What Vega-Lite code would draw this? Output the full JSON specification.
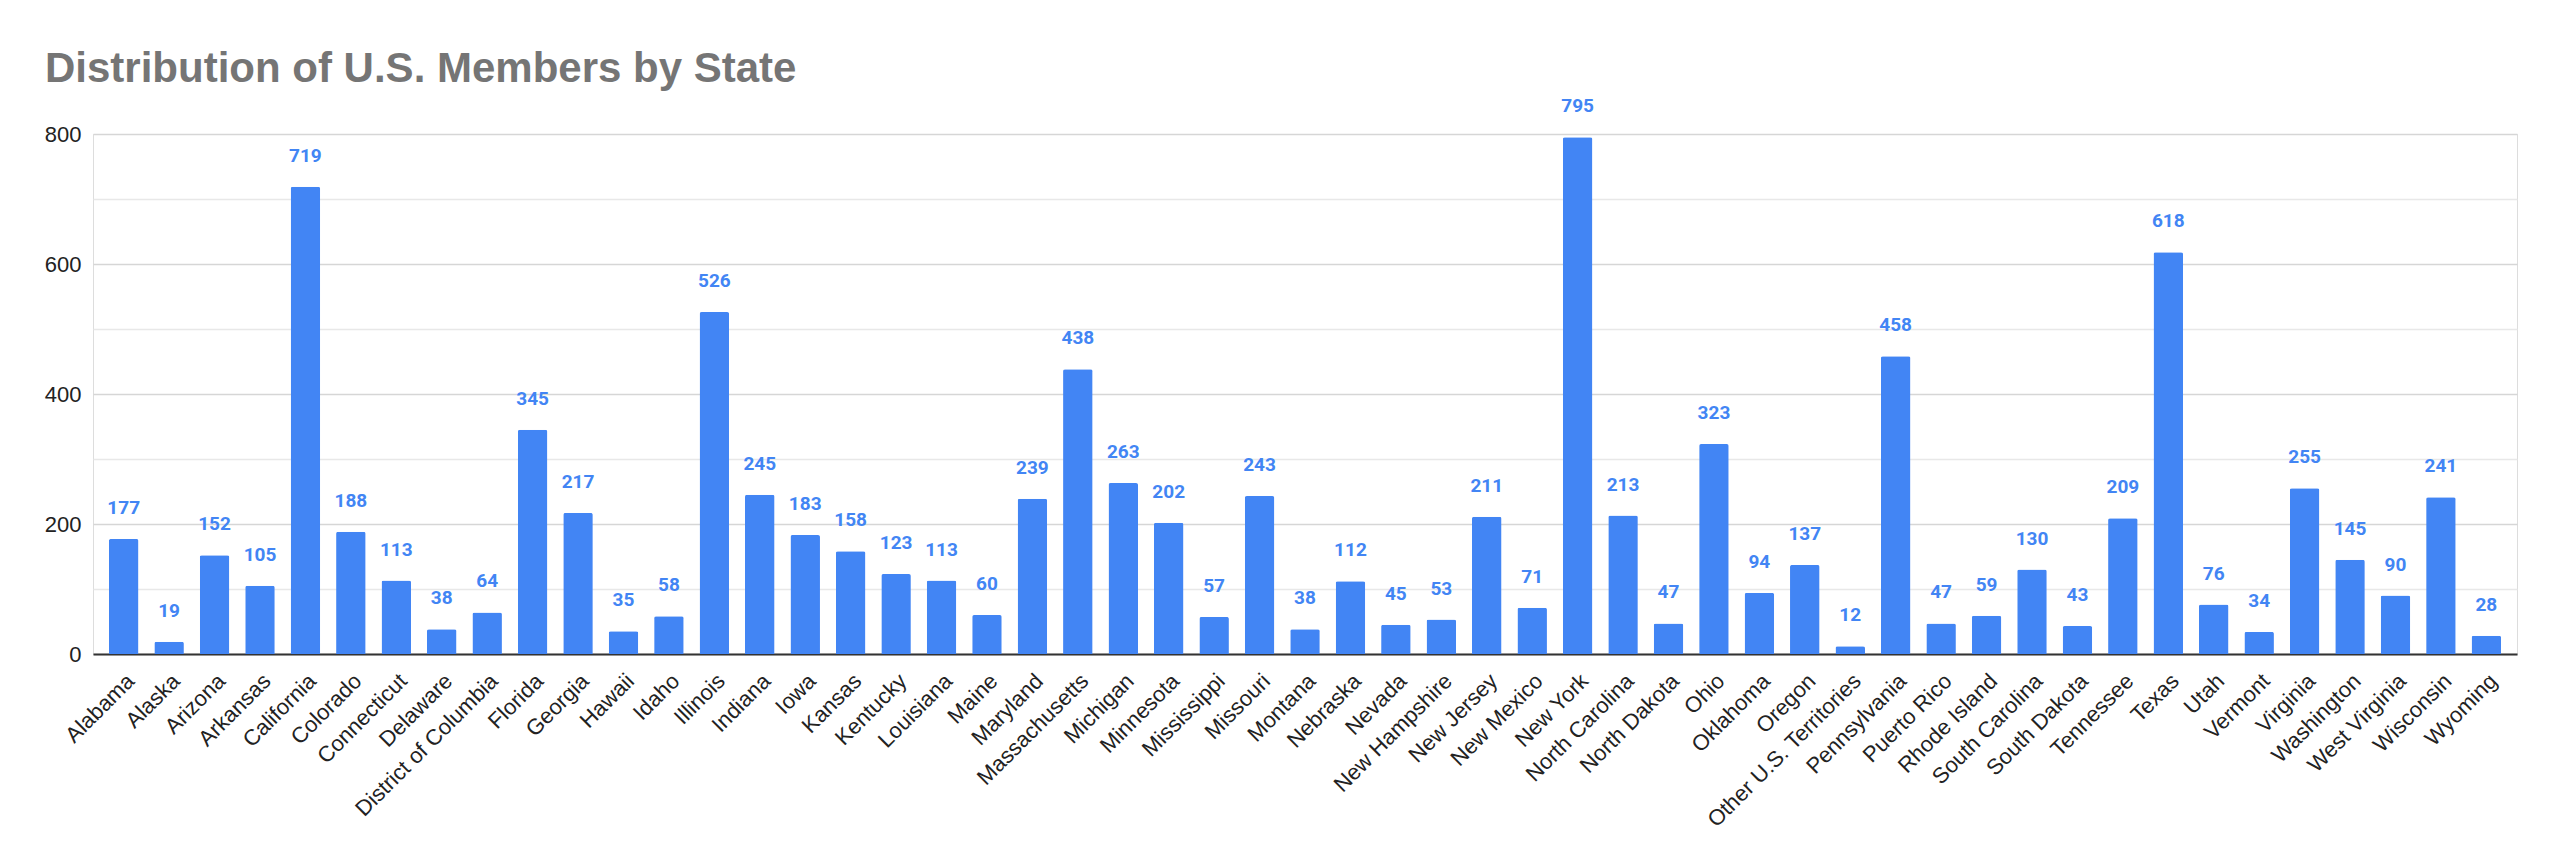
{
  "$schema": "https://vega.github.io/schema/vega-lite/v6.json",
  "width": 2424,
  "height": 520,
  "autosize": {"type": "none"},
  "padding": {"left": 93, "top": 134, "right": 43, "bottom": 213},
  "background": "#ffffff",
  "title": {
    "text": "Distribution of U.S. Members by State",
    "anchor": "start",
    "frame": "group",
    "dx": -48,
    "offset": 6,
    "font": "Liberation Sans",
    "fontSize": 42,
    "fontWeight": "bold",
    "color": "#757575"
  },
  "data": {
    "values": [
      {"state": "Alabama", "members": 177},
      {"state": "Alaska", "members": 19},
      {"state": "Arizona", "members": 152},
      {"state": "Arkansas", "members": 105},
      {"state": "California", "members": 719},
      {"state": "Colorado", "members": 188},
      {"state": "Connecticut", "members": 113},
      {"state": "Delaware", "members": 38},
      {"state": "District of Columbia", "members": 64},
      {"state": "Florida", "members": 345},
      {"state": "Georgia", "members": 217},
      {"state": "Hawaii", "members": 35},
      {"state": "Idaho", "members": 58},
      {"state": "Illinois", "members": 526},
      {"state": "Indiana", "members": 245},
      {"state": "Iowa", "members": 183},
      {"state": "Kansas", "members": 158},
      {"state": "Kentucky", "members": 123},
      {"state": "Louisiana", "members": 113},
      {"state": "Maine", "members": 60},
      {"state": "Maryland", "members": 239},
      {"state": "Massachusetts", "members": 438},
      {"state": "Michigan", "members": 263},
      {"state": "Minnesota", "members": 202},
      {"state": "Mississippi", "members": 57},
      {"state": "Missouri", "members": 243},
      {"state": "Montana", "members": 38},
      {"state": "Nebraska", "members": 112},
      {"state": "Nevada", "members": 45},
      {"state": "New Hampshire", "members": 53},
      {"state": "New Jersey", "members": 211},
      {"state": "New Mexico", "members": 71},
      {"state": "New York", "members": 795},
      {"state": "North Carolina", "members": 213},
      {"state": "North Dakota", "members": 47},
      {"state": "Ohio", "members": 323},
      {"state": "Oklahoma", "members": 94},
      {"state": "Oregon", "members": 137},
      {"state": "Other U.S. Territories", "members": 12},
      {"state": "Pennsylvania", "members": 458},
      {"state": "Puerto Rico", "members": 47},
      {"state": "Rhode Island", "members": 59},
      {"state": "South Carolina", "members": 130},
      {"state": "South Dakota", "members": 43},
      {"state": "Tennessee", "members": 209},
      {"state": "Texas", "members": 618},
      {"state": "Utah", "members": 76},
      {"state": "Vermont", "members": 34},
      {"state": "Virginia", "members": 255},
      {"state": "Washington", "members": 145},
      {"state": "West Virginia", "members": 90},
      {"state": "Wisconsin", "members": 241},
      {"state": "Wyoming", "members": 28}
    ]
  },
  "encoding": {
    "x": {
      "field": "state",
      "type": "nominal",
      "sort": null,
      "scale": {"paddingInner": 0.35, "paddingOuter": 0.35},
      "axis": {
        "title": null,
        "labelAngle": -45,
        "labelAlign": "right",
        "labelBaseline": "top",
        "labelFont": "Liberation Sans",
        "labelFontSize": 22,
        "labelColor": "#222222",
        "labelPadding": 16,
        "labelOverlap": false,
        "labelLimit": 400,
        "ticks": false,
        "grid": false,
        "domain": true,
        "domainColor": "#333333",
        "domainWidth": 2
      }
    },
    "y": {
      "field": "members",
      "type": "quantitative",
      "scale": {"domain": [0, 800], "nice": false},
      "axis": {
        "title": null,
        "values": [0, 100, 200, 300, 400, 500, 600, 700, 800],
        "labelExpr": "datum.value % 200 === 0 ? datum.label : ''",
        "labelFont": "Liberation Sans",
        "labelFontSize": 22,
        "labelColor": "#222222",
        "labelPadding": 12,
        "ticks": false,
        "domain": false,
        "grid": true,
        "gridColor": {"condition": {"test": "datum.value % 200 === 0", "value": "#d6d6d6"}, "value": "#e8e8e8"},
        "gridWidth": 1.5
      }
    }
  },
  "layer": [
    {
      "mark": {
        "type": "bar",
        "color": "#4285F4",
        "cornerRadiusTopLeft": 2,
        "cornerRadiusTopRight": 2
      }
    },
    {
      "mark": {
        "type": "text",
        "baseline": "alphabetic",
        "dy": -25,
        "font": "Roboto",
        "fontSize": 19,
        "fontWeight": "bold",
        "color": "#4285F4"
      },
      "encoding": {
        "text": {"field": "members", "type": "quantitative"}
      }
    }
  ]
}
